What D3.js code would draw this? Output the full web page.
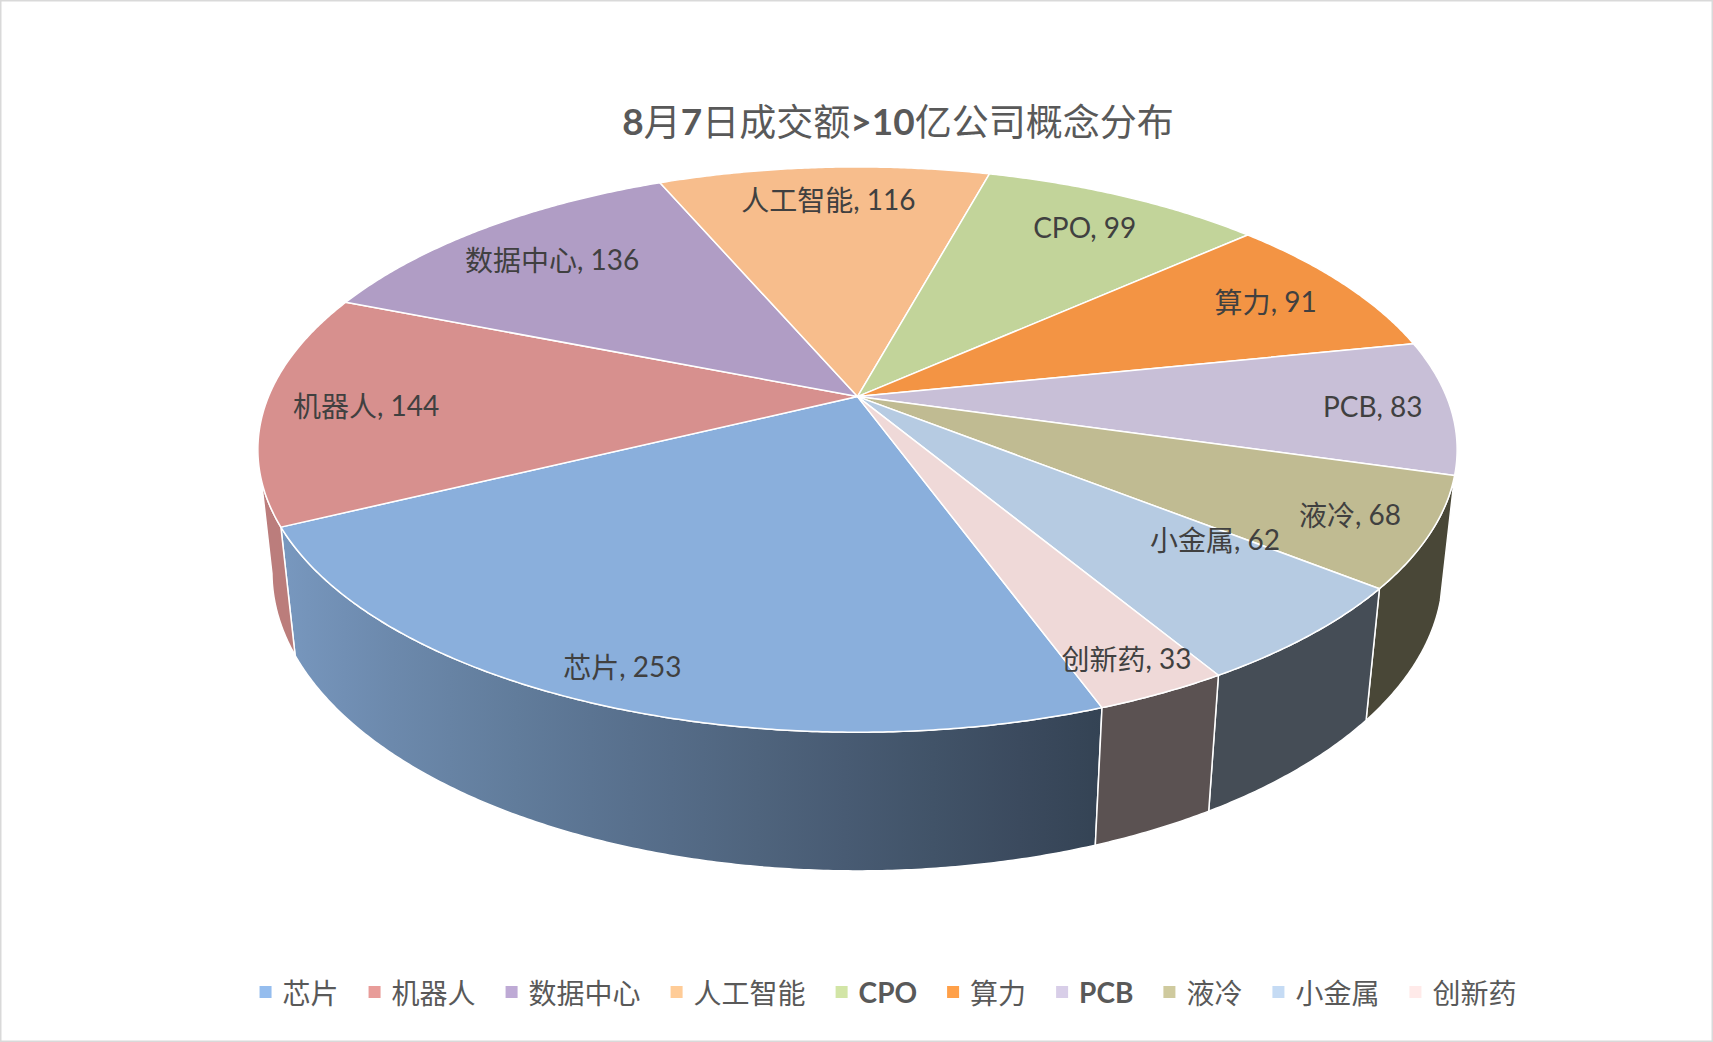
<!DOCTYPE html>
<html>
<head>
<meta charset="utf-8">
<script src="https://cdn.jsdelivr.net/npm/d3@7"></script>
<style>
  body { margin: 0; background: #fff; }
</style>
</head>
<body>
<div id="chart"></div>
<script>
// ---- data ----
const categories = ["芯片", "机器人", "数据中心", "人工智能", "CPO", "算力", "PCB", "液冷", "小金属", "创新药"];
const counts = [253, 144, 136, 116, 99, 91, 83, 68, 62, 33];
const colors = ["#8aafdc", "#d7908e", "#b09dc5", "#f7bd8c", "#c2d49a", "#f39444", "#c8bfd7", "#c0bb92", "#b6cbe2", "#efd9d8"];
const chartTitle = "8月7日成交额>10亿公司概念分布";

// label placement inside each slice (radius fraction, angle nudge in degrees)
const labelR = [0.9, 0.83, 0.8, 0.84, 0.83, 0.83, 0.87, 0.87, 0.73, 0.9];
const labelNudge = [0, 0, 0, 0, 0, 0, 0, 0, 8, 0];

// ---- layout ----
const W = 1713, H = 1042;
const cx = 857.5, cy = 396.6, K = 589;       // apex of pie and radius in px
const tilt = Math.asin(0.463);
const sT = Math.sin(tilt), cT = Math.cos(tilt);
const D = 4.73;                               // camera distance (in radii)
const depth = 0.237;                          // pie thickness (in radii)
const phi0 = 20 * Math.PI / 180;              // where the first slice starts
const CJK = /[\u3400-\u9fff]/;

const svg = d3.select("#chart").append("svg")
  .attr("width", W)
  .attr("height", H);

svg.append("rect")
  .attr("x", 0.75).attr("y", 0.75)
  .attr("width", W - 1.5).attr("height", H - 1.5)
  .attr("fill", "#fff")
  .attr("stroke", "#d9d9d9")
  .attr("stroke-width", 1.5);

const defs = svg.append("defs");

// perspective projection of a point on the pie (phi from the front, clockwise on screen = decreasing)
function project(phi, r, y) {
  const X = r * Math.sin(phi), Z = r * Math.cos(phi);
  const d = Z * cT + y * sT;
  const v = y * cT - Z * sT;
  const k = D / (D - d);
  return [cx + K * X * k, cy - K * v * k];
}

function arcPoints(a, b, r, y) {
  const n = Math.max(2, Math.ceil(Math.abs(b - a) / (0.4 * Math.PI / 180)));
  return d3.range(n + 1).map(i => project(a + (b - a) * i / n, r, y));
}

// side brightness, darker to the right
function shade(phi) {
  const t = (Math.sin(phi) + 0.9) / 1.24;
  return Math.max(0.38, Math.min(0.87, 0.87 - 0.49 * t));
}
function scaleColor(col, f) {
  const c = d3.rgb(col);
  return d3.rgb(c.r * f, c.g * f, c.b * f).formatHex();
}

function addRuns(sel, str, latinWeight) {
  str.split(/([\u3400-\u9fff]+)/).filter(t => t.length).forEach(t => {
    const cjk = CJK.test(t);
    sel.append("tspan")
      .attr("font-family", cjk ? "'Noto Sans CJK SC', sans-serif" : "Lato, 'Noto Sans', sans-serif")
      .attr("font-weight", cjk ? "normal" : latinWeight)
      .text(t);
  });
}

const arcs = d3.pie().sort(null).value(d => d)(counts);
const angle = a => phi0 - a;

// silhouette angle of the cylinder
let phiS = 0, best = -1;
d3.range(0, 180.01, 0.1).forEach(deg => {
  const p = deg * Math.PI / 180;
  const x = project(p, 1, 0)[0] - cx;
  if (x > best) { best = x; phiS = p; }
});

const line = d3.line();

// ---- sides ----
const sideG = svg.append("g");
arcs.forEach((a, i) => {
  const hi = angle(a.startAngle), lo = angle(a.endAngle);
  [-2 * Math.PI, 0, 2 * Math.PI].forEach(shift => {
    const l = Math.max(lo + shift, -phiS), h = Math.min(hi + shift, phiS);
    if (h <= l) return;
    const top = arcPoints(l, h, 1, 0);
    const bot = arcPoints(h, l, 1, -depth);
    const id = "side" + i + "_" + (shift > 0 ? "p" : shift < 0 ? "m" : "z");
    const samples = d3.range(13).map(j => {
      const p = l + (h - l) * j / 12;
      return { x: project(p, 1, 0)[0], col: scaleColor(colors[i], shade(p)) };
    });
    const xmin = d3.min(samples, s => s.x), xmax = d3.max(samples, s => s.x);
    const grad = defs.append("linearGradient")
      .attr("id", id)
      .attr("gradientUnits", "userSpaceOnUse")
      .attr("x1", xmin).attr("x2", xmax).attr("y1", 0).attr("y2", 0);
    samples.sort((p, q) => p.x - q.x).forEach(s => {
      grad.append("stop")
        .attr("offset", xmax > xmin ? (s.x - xmin) / (xmax - xmin) : 0)
        .attr("stop-color", s.col);
    });
    sideG.append("path")
      .attr("d", line(top.concat(bot)) + "Z")
      .attr("fill", `url(#${id})`)
      .attr("stroke", "#fff")
      .attr("stroke-width", 1.5)
      .attr("stroke-linejoin", "round");
  });
});

// ---- top faces ----
const topG = svg.append("g");
arcs.forEach((a, i) => {
  const pts = [project(0, 0, 0)].concat(arcPoints(angle(a.startAngle), angle(a.endAngle), 1, 0));
  topG.append("path")
    .attr("d", line(pts) + "Z")
    .attr("fill", colors[i])
    .attr("stroke", "#fff")
    .attr("stroke-width", 1.5)
    .attr("stroke-linejoin", "round");
});

// ---- data labels ----
const labelG = svg.append("g");
arcs.forEach((a, i) => {
  const mid = angle((a.startAngle + a.endAngle) / 2) + labelNudge[i] * Math.PI / 180;
  const [x, y] = project(mid, labelR[i], 0);
  const t = labelG.append("text")
    .attr("x", x).attr("y", y)
    .attr("text-anchor", "middle")
    .attr("dominant-baseline", "central")
    .attr("font-size", 28)
    .attr("fill", "#404040");
  addRuns(t, `${categories[i]}, ${counts[i]}`, "normal");
});

// ---- title ----
const titleText = svg.append("text")
  .attr("x", 898)
  .attr("y", 120)
  .attr("text-anchor", "middle")
  .attr("dominant-baseline", "central")
  .attr("font-size", 37)
  .attr("fill", "#595959");
addRuns(titleText, chartTitle, "bold");

// ---- legend ----
const legendY = 992, sw = 12, swGap = 11, itemGap = 30, legendCenter = 888;
const legendG = svg.append("g");
const items = categories.map((cat, i) => {
  const g = legendG.append("g");
  g.append("rect")
    .attr("width", sw).attr("height", sw)
    .attr("y", legendY - sw / 2)
    .attr("fill", scaleColor(colors[i], 1.08));
  const t = g.append("text")
    .attr("x", sw + swGap)
    .attr("y", legendY)
    .attr("dominant-baseline", "central")
    .attr("font-size", 28)
    .attr("fill", "#595959");
  addRuns(t, cat, "bold");
  return { g, w: sw + swGap + t.node().getComputedTextLength() };
});
const totalW = d3.sum(items, d => d.w) + itemGap * (items.length - 1);
let lx = legendCenter - totalW / 2;
items.forEach(it => {
  it.g.attr("transform", `translate(${lx},0)`);
  lx += it.w + itemGap;
});
</script>
</body>
</html>
